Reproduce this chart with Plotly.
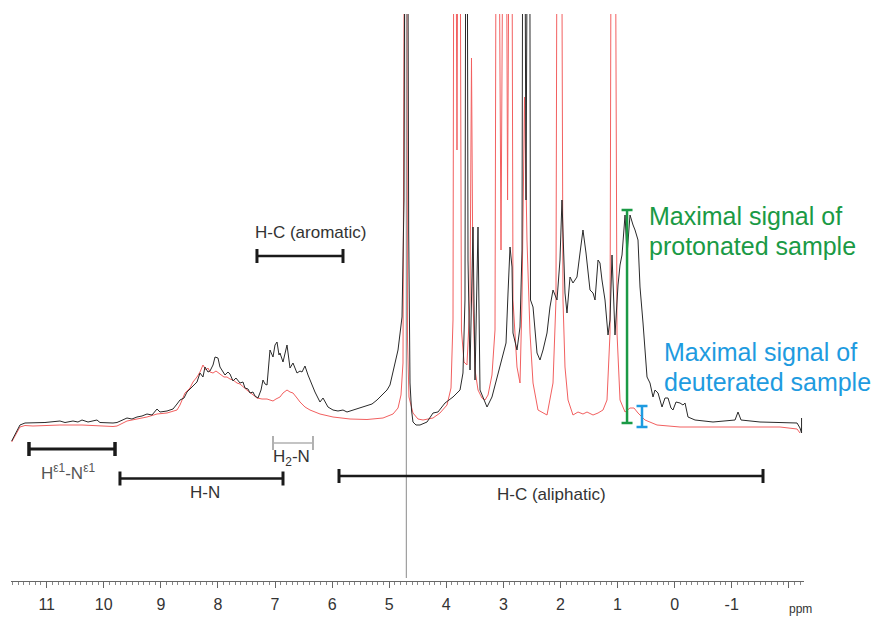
import plotly.graph_objects as go

# ---------------- data (chemical shift in ppm, intensity in a.u.) ----------------
ppm_protonated = [11.613, 11.468, 11.380, 11.240, 11.030, 10.767, 10.679, 10.539, 10.452, 10.381,
    10.276, 10.119, 10.066, 9.838, 9.768, 9.593, 9.506, 9.418, 9.330, 9.243, 9.155, 9.067, 9.015,
    8.892, 8.787, 8.717, 8.665, 8.594, 8.542, 8.454, 8.367, 8.314, 8.262, 8.227, 8.174, 8.139,
    8.086, 8.051, 7.999, 7.964, 7.911, 7.876, 7.824, 7.789, 7.736, 7.684, 7.613, 7.561, 7.526,
    7.473, 7.438, 7.386, 7.351, 7.298, 7.245, 7.211, 7.175, 7.140, 7.088, 7.053, 7.035, 7.000,
    6.965, 6.930, 6.913, 6.860, 6.790, 6.737, 6.685, 6.615, 6.562, 6.527, 6.475, 6.422, 6.387,
    6.300, 6.212, 6.159, 6.072, 5.984, 5.897, 5.809, 5.739, 5.634, 5.511, 5.389, 5.301, 5.213,
    5.108, 5.038, 4.986, 4.933, 4.845, 4.775, 4.740, 4.717, 4.705, 4.682, 4.658, 4.635, 4.609,
    4.583, 4.530, 4.460, 4.337, 4.232, 4.145, 4.022, 3.882, 3.759, 3.707, 3.672, 3.646, 3.619,
    3.584, 3.531, 3.496, 3.444, 3.409, 3.356, 3.286, 3.199, 3.111, 3.023, 2.953, 2.918, 2.883,
    2.848, 2.831, 2.761, 2.708, 2.673, 2.647, 2.603, 2.550, 2.524, 2.480, 2.410, 2.358, 2.305,
    2.235, 2.183, 2.130, 2.060, 2.008, 1.973, 1.955, 1.920, 1.885, 1.832, 1.780, 1.710, 1.657,
    1.605, 1.552, 1.482, 1.429, 1.394, 1.341, 1.307, 1.272, 1.219, 1.166, 1.131, 1.096, 1.044,
    0.991, 0.956, 0.921, 0.868, 0.833, 0.781, 0.728, 0.693, 0.641, 0.606, 0.553, 0.483, 0.431,
    0.378, 0.343, 0.290, 0.220, 0.168, 0.115, 0.063, 0.028, -0.025, -0.095, -0.147, -0.183,
    -0.235, -0.358, -0.673, -1.059, -1.111, -1.164, -1.496, -2.145, -2.197, -2.224, -2.224]
int_protonated = [-11, 5, 7, 7.3, 7.5, 9, 7.5, 9, 8, 10,
    8, 10, 7.5, 7, 7.5, 12, 11, 13, 14, 16, 15, 21, 18,
    19, 21, 26, 30, 32, 38, 43, 48, 57, 53, 63, 58, 59,
    65, 73, 72, 63, 58, 55, 58, 56, 49, 52, 47, 48, 42,
    41, 37, 38, 34, 32, 40, 50, 46, 45, 80, 74, 73, 85,
    88, 75, 77, 68, 85, 62, 67, 57, 59, 58, 64, 55, 50,
    38, 28, 32, 23, 20, 19, 20, 18, 20, 22, 24, 26, 30,
    36, 40, 45, 57, 80, 113, 230, 700, 900, 700, 197, 47, 20,
    8, 5, 5, 8, 17, 18, 27, 33, 40, 57, 130, 900, 170,
    60, 203, 50, 203, 40, 33, 23, 33, 53, 70, 87, 137, 183,
    163, 97, 80, 103, 180, 900, 230, 900, 130, 123, 77, 70, 80,
    97, 123, 140, 130, 170, 230, 197, 137, 117, 153, 147, 153, 177,
    200, 177, 140, 137, 130, 170, 167, 150, 130, 95, 110, 175, 95,
    145, 165, 175, 215, 175, 215, 205, 200, 190, 143, 107, 53, 47,
    33, 40, 37, 23, 32, 32, 22, 20, 28, 27, 25, 27,
    13, 10, 8, 10, 18, 10, 8, 7, 2, -3, 12]

ppm_deuterated = [11.613, 11.468, 11.380, 11.240, 10.767, 10.381, 9.838, 9.768, 9.593, 9.418,
    9.243, 9.067, 8.892, 8.717, 8.665, 8.577, 8.489, 8.437, 8.367, 8.314, 8.262, 8.209, 8.174,
    8.139, 8.086, 8.034, 7.964, 7.894, 7.841, 7.789, 7.736, 7.666, 7.613, 7.543, 7.473, 7.403,
    7.316, 7.228, 7.140, 7.088, 7.035, 6.983, 6.913, 6.860, 6.790, 6.737, 6.685, 6.615, 6.562,
    6.475, 6.387, 6.212, 5.984, 5.686, 5.389, 5.108, 4.933, 4.845, 4.793, 4.758, 4.731, 4.714,
    4.697, 4.679, 4.653, 4.583, 4.495, 4.407, 4.320, 4.232, 4.110, 3.987, 3.917, 3.882, 3.856,
    3.812, 3.777, 3.734, 3.689, 3.637, 3.584, 3.558, 3.531, 3.496, 3.444, 3.374, 3.321, 3.268,
    3.199, 3.146, 3.111, 3.041, 2.971, 2.926, 2.866, 2.831, 2.761, 2.708, 2.673, 2.629, 2.586,
    2.533, 2.480, 2.393, 2.235, 2.130, 2.078, 2.043, 1.999, 1.955, 1.920, 1.867, 1.780, 1.692,
    1.605, 1.534, 1.429, 1.341, 1.254, 1.184, 1.131, 1.096, 1.061, 1.009, 0.956, 0.868, 0.781,
    0.711, 0.641, 0.518, 0.308, -0.095, -0.673, -1.269, -1.847, -2.145, -2.197]
int_deuterated = [-12, 3, 4.5, 4, 5, 5, 3.5, 4, 9, 11,
    13, 16, 17, 20, 25, 37, 42, 48, 53, 58, 65, 60, 62,
    58, 57, 59, 56, 53, 53, 51, 50, 47, 46, 42, 39, 36,
    32, 31, 31, 30, 29, 31, 33, 37, 40, 38, 37, 32, 28,
    23, 20, 16, 13, 11, 10.5, 12, 16, 22, 35, 67, 700, 900,
    700, 90, 33, 17, 11, 10, 11, 12, 17, 25, 42, 110, 900,
    280, 900, 100, 68, 65, 130, 372, 130, 60, 40, 32, 30, 35,
    55, 100, 900, 180, 900, 230, 900, 130, 63, 47, 130, 333, 190,
    97, 47, 20, 15, 47, 130, 900, 900, 130, 63, 30, 15, 18,
    16, 18, 15, 17, 20, 30, 97, 900, 900, 97, 30, 18, 22,
    22, 17, 10, 5, 3, 3, 3, 3, 1, -3]

# ppm axis tick labels
tick_values = [11, 10, 9, 8, 7, 6, 5, 4, 3, 2, 1, 0, -1, -2]
tick_labels = ["11", "10", "9", "8", "7", "6", "5", "4", "3", "2", "1", "0", "-1", " "]

# assignment regions (ppm ranges) drawn as range bars
region_names = ["H-C (aromatic)", "H<sup>ε1</sup>-N<sup>ε1</sup>", "H-N", "H<sub>2</sub>-N", "H-C (aliphatic)"]
region_start = [7.316, 11.310, 9.716, 7.035, 5.879]
region_end = [5.809, 9.803, 6.860, 6.335, -1.549]
region_level = [174, -19, -48.5, -13, -46]

water_ppm = 4.70

# maximal signal markers (ppm, low, high)
marker_names = ["protonated", "deuterated"]
marker_ppm = [0.833, 0.571]
marker_low = [7, 3]
marker_high = [220, 24]

# ---------------- figure ----------------
fig = go.Figure()
fig.add_trace(go.Scatter(x=ppm_deuterated, y=int_deuterated, mode="lines",
                         line=dict(color="#f26060", width=1), hoverinfo="skip", showlegend=False))
fig.add_trace(go.Scatter(x=ppm_protonated, y=int_protonated, mode="lines",
                         line=dict(color="#2a2a2a", width=1), hoverinfo="skip", showlegend=False))

shapes = []
# water line
shapes.append(dict(type="line", xref="x", yref="y", x0=water_ppm, x1=water_ppm, y0=-148, y1=416,
                   line=dict(color="#8a8a8a", width=1)))

bar_colors = ["#1a1a1a", "#1a1a1a", "#1a1a1a", "#b0b0b0", "#1a1a1a"]
bar_widths = [2.5, 3, 2.5, 1.5, 2.5]
for s, e, lv, c, w in zip(region_start, region_end, region_level, bar_colors, bar_widths):
    shapes.append(dict(type="line", xref="x", yref="y", x0=s, x1=e, y0=lv, y1=lv,
                       line=dict(color=c, width=w)))
    for xx in (s, e):
        shapes.append(dict(type="line", xref="x", yref="y", x0=xx, x1=xx, y0=lv - 7, y1=lv + 7,
                           line=dict(color=c, width=w + 0.5)))

marker_colors = ["#1a9a45", "#1e9be0"]
for xm, lo, hi, c in zip(marker_ppm, marker_low, marker_high, marker_colors):
    shapes.append(dict(type="line", xref="x", yref="y", x0=xm, x1=xm, y0=lo, y1=hi,
                       line=dict(color=c, width=2.5)))
    for yy in (lo, hi):
        shapes.append(dict(type="line", xref="x", yref="y", x0=xm + 0.096, x1=xm - 0.096,
                           y0=yy, y1=yy, line=dict(color=c, width=2.5)))

font_main = "Liberation Sans, Arial, sans-serif"
annotations = []
label_x = [6.387, 10.635, 8.227, 6.703, 2.148]
label_y = [198, -42, -62, -28, -64]
label_colors = ["#333333", "#555555", "#333333", "#333333", "#333333"]
for name, lx, ly, c in zip(region_names, label_x, label_y, label_colors):
    annotations.append(dict(x=lx, y=ly, xref="x", yref="y", text=name, showarrow=False,
                            font=dict(family=font_main, size=17, color=c),
                            xanchor="center", yanchor="middle"))

text_lines = [("Maximal signal of", 0.483, 214, "#1a9a45"),
              ("protonated sample", 0.483, 184, "#1a9a45"),
              ("Maximal signal of", 0.220, 78, "#1e9be0"),
              ("deuterated sample", 0.220, 48, "#1e9be0")]
for t, tx, ty, c in text_lines:
    annotations.append(dict(x=tx, y=ty, xref="x", yref="y", text=t, showarrow=False,
                            font=dict(family=font_main, size=25, color=c),
                            xanchor="left", yanchor="middle"))

annotations.append(dict(x=-2.2, y=-0.049, xref="x", yref="paper", text="ppm", showarrow=False,
                        font=dict(family=font_main, size=12, color="#333333"),
                        xanchor="center", yanchor="middle"))

fig.update_layout(
    width=884, height=619,
    margin=dict(l=11, r=80, t=14, b=38, autoexpand=False),
    paper_bgcolor="white", plot_bgcolor="white",
    shapes=shapes, annotations=annotations,
    xaxis=dict(range=[11.625, -2.267], showgrid=False, zeroline=False, automargin=False,
               showline=True, linecolor="#666666", linewidth=1,
               ticks="outside", ticklen=6, tickcolor="#666666", tickwidth=1,
               tickmode="array", tickvals=tick_values, ticktext=tick_labels,
               tickfont=dict(family="Liberation Sans Narrow, Arial Narrow, Liberation Sans, sans-serif",
                             size=16, color="#333333"),
               ticklabelstandoff=3,
               minor=dict(tickmode="linear", tick0=0, dtick=0.1, ticks="outside", ticklen=3,
                          tickcolor="#888888", tickwidth=1, showgrid=False)),
    yaxis=dict(range=[-151, 416], visible=False, showgrid=False, zeroline=False),
)

fig.write_html("out.html")
